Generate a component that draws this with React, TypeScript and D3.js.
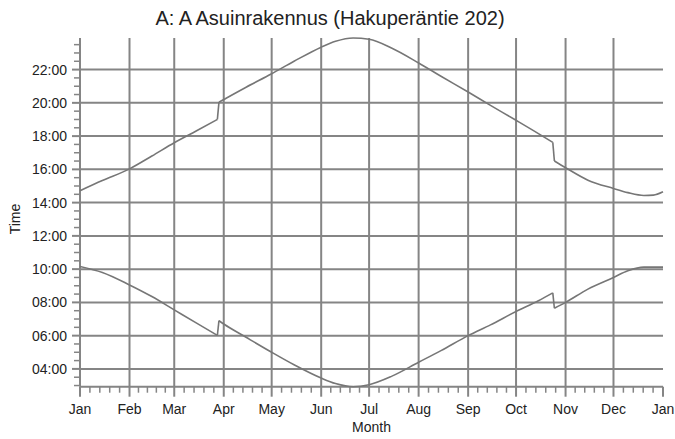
import React from "react";
import * as d3 from "d3";

const dates = [
  "2015-01-01", "2015-01-15", "2015-02-01", "2015-02-15", "2015-03-01", "2015-03-15",
  "2015-03-28", "2015-03-29", "2015-04-01", "2015-04-15", "2015-05-01", "2015-05-15",
  "2015-06-01", "2015-06-10", "2015-06-21", "2015-07-01", "2015-07-15", "2015-08-01",
  "2015-08-15", "2015-09-01", "2015-09-15", "2015-10-01", "2015-10-15", "2015-10-24",
  "2015-10-25", "2015-11-01", "2015-11-15", "2015-12-01", "2015-12-10", "2015-12-20",
  "2015-12-26", "2016-01-01",
];

const sunset = [
  14.72, 15.33, 16.03, 16.8, 17.6, 18.32, 19.0, 20.04, 20.2, 20.94, 21.75, 22.5,
  23.35, 23.7, 23.9, 23.82, 23.3, 22.4, 21.6, 20.65, 19.85, 18.95, 18.15, 17.62,
  16.5, 16.1, 15.35, 14.85, 14.6, 14.43, 14.45, 14.65,
];

const sunrise = [
  10.16, 9.8, 9.05, 8.35, 7.55, 6.75, 6.02, 6.9, 6.7, 5.9, 5.0, 4.25,
  3.45, 3.12, 2.93, 3.05, 3.55, 4.4, 5.1, 6.0, 6.65, 7.45, 8.1, 8.57,
  7.65, 8.0, 8.8, 9.5, 9.9, 10.12, 10.12, 10.12,
];

// indices where the clock shifts (daylight saving start / end)
const clockShiftAfter = [6, 23];

const monthLabels = ["Jan", "Feb", "Mar", "Apr", "May", "Jun", "Jul", "Aug", "Sep", "Oct", "Nov", "Dec", "Jan"];
const hourTicks = [4, 6, 8, 10, 12, 14, 16, 18, 20, 22];
const yDomain = [2.93, 23.9];

const title = "A: A Asuinrakennus (Hakuperäntie 202)";

const W = 675;
const H = 439;
const L = 80;
const R = 663;
const T = 38;
const B = 386.7;
const FONT = "'Liberation Sans', Arial, sans-serif";
const GRID = "#858585";
const LINE = "#767676";
const TEXT = "#222";

export default function App() {
  const parse = d3.timeParse("%Y-%m-%d");
  const x = d3.scaleTime().domain([parse("2015-01-01")!, parse("2016-01-01")!]).range([L, R]);
  const y = d3.scaleLinear().domain(yDomain).range([B, T]);

  const months = d3.timeMonth.range(parse("2015-01-01")!, parse("2016-01-02")!);
  const minorX: number[] = [];
  for (let i = 0; i < months.length - 1; i++) {
    const a = x(months[i]);
    const b = x(months[i + 1]);
    for (let k = 1; k < 5; k++) minorX.push(a + ((b - a) * k) / 5);
  }
  const minorY: number[] = [];
  for (let h = 3; h <= 23.5; h += 0.5) {
    if (h % 2 !== 0) minorY.push(h);
  }

  const pts = dates.map((d, i) => ({ d: parse(d)!, up: sunset[i], lo: sunrise[i] }));
  const bounds = [0, ...clockShiftAfter.map((k) => k + 1), pts.length];
  const segs: any[][] = [];
  for (let i = 0; i < bounds.length - 1; i++) segs.push(pts.slice(bounds[i], bounds[i + 1]));
  const jumps = clockShiftAfter.map((k) => [pts[k], pts[k + 1]]);

  const smoothUp = d3.line<any>().x((p) => x(p.d)).y((p) => y(p.up)).curve(d3.curveMonotoneX);
  const smoothLo = d3.line<any>().x((p) => x(p.d)).y((p) => y(p.lo)).curve(d3.curveMonotoneX);
  const straightUp = d3.line<any>().x((p) => x(p.d)).y((p) => y(p.up));
  const straightLo = d3.line<any>().x((p) => x(p.d)).y((p) => y(p.lo));

  const fmt = (h: number) => (h < 10 ? "0" : "") + h + ":00";

  return (
    <svg width={W} height={H} style={{ position: "absolute", left: 0, top: 0, background: "#fff" }} fontFamily={FONT}>
      <rect x={0} y={0} width={W} height={H} fill="#fff" />
      <text x={330} y={25} textAnchor="middle" fontSize={20} fill={TEXT}>{title}</text>

      {hourTicks.map((h) => (
        <line key={"hg" + h} x1={L} x2={R} y1={y(h)} y2={y(h)} stroke={GRID} strokeWidth={2} />
      ))}
      {months.slice(0, 12).map((m, i) => (
        <line key={"vg" + i} x1={x(m)} x2={x(m)} y1={T} y2={B} stroke={GRID} strokeWidth={2} />
      ))}
      <line x1={L} x2={R} y1={B} y2={B} stroke={GRID} strokeWidth={2} />

      {months.map((m, i) => (
        <line key={"xt" + i} x1={x(m)} x2={x(m)} y1={B} y2={B + 10} stroke={GRID} strokeWidth={2} />
      ))}
      {minorX.map((v, i) => (
        <line key={"xm" + i} x1={v} x2={v} y1={B} y2={B + 6} stroke={GRID} strokeWidth={1.5} />
      ))}
      {months.map((m, i) => (
        <text key={"xl" + i} x={x(m)} y={414} textAnchor="middle" fontSize={14} fill={TEXT}>{monthLabels[i]}</text>
      ))}
      <text x={(L + R) / 2} y={432} textAnchor="middle" fontSize={14} fill={TEXT}>Month</text>

      {hourTicks.map((h) => (
        <line key={"yt" + h} x1={L - 8} x2={L} y1={y(h)} y2={y(h)} stroke={GRID} strokeWidth={2} />
      ))}
      {minorY.map((h) => (
        <line key={"ym" + h} x1={L - 6} x2={L} y1={y(h)} y2={y(h)} stroke={GRID} strokeWidth={1.5} />
      ))}
      {hourTicks.map((h) => (
        <text key={"yl" + h} x={67} y={y(h)} dy="0.36em" textAnchor="end" fontSize={14} fill={TEXT}>{fmt(h)}</text>
      ))}
      <text transform={`translate(20,219) rotate(-90)`} textAnchor="middle" fontSize={14} fill={TEXT}>Time</text>

      {segs.map((s, i) => (
        <g key={"seg" + i}>
          <path d={smoothUp(s) || ""} fill="none" stroke={LINE} strokeWidth={1.6} />
          <path d={smoothLo(s) || ""} fill="none" stroke={LINE} strokeWidth={1.6} />
        </g>
      ))}
      {jumps.map((j, i) => (
        <g key={"jump" + i}>
          <path d={straightUp(j) || ""} fill="none" stroke={LINE} strokeWidth={1.6} />
          <path d={straightLo(j) || ""} fill="none" stroke={LINE} strokeWidth={1.6} />
        </g>
      ))}
    </svg>
  );
}
